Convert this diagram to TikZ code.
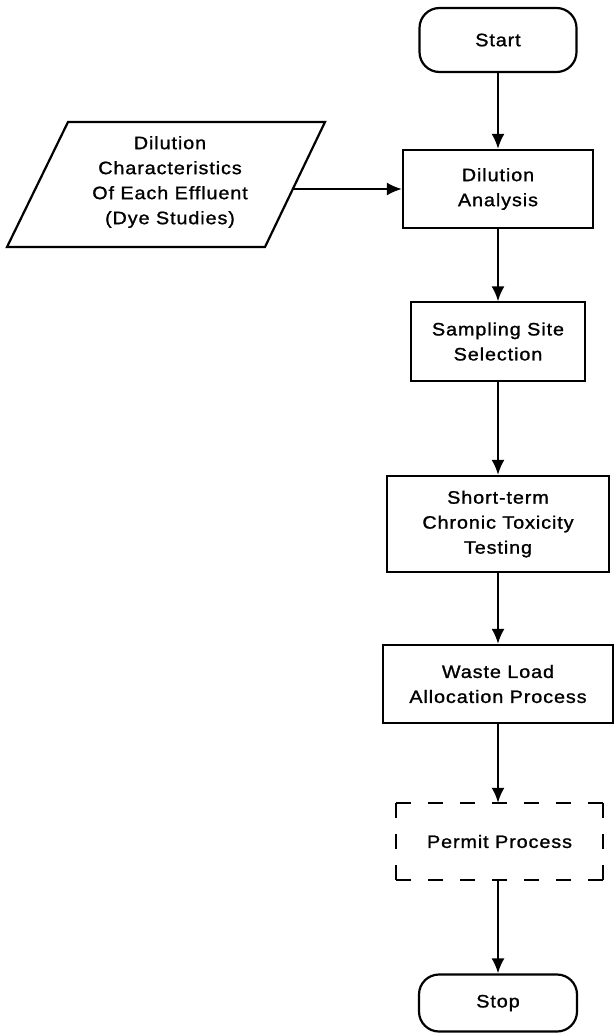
\documentclass[tikz,border=0pt]{standalone}
\usepackage{fontspec}
\setmainfont[FakeStretch=1.1,LetterSpace=5,FakeBold=1.2]{Liberation Sans}
\usetikzlibrary{arrows.meta}
\begin{document}
\begin{tikzpicture}[x=1pt,y=-1pt,
  every node/.style={font=\fontsize{18}{25}\selectfont, align=center, inner sep=0pt},
  box/.style={draw, line width=2.2pt, minimum width=#1},
  endbox/.style={draw, line width=2.2pt, rounded corners=20pt, minimum width=#1},
  flow/.style={line width=2.2pt, -{Latex[length=15pt,width=13pt]}},
  dashedge/.style={line width=2.2pt, dash pattern=on 15pt off 17pt},
]
% page extent
\useasboundingbox (0,0) rectangle (614,1036);

% main column
\node[endbox=157, minimum height=64] (start) at (498,40) {Start};
\node[box=190, minimum height=78] (dil) at (498,189) {Dilution\\Analysis};
\node[box=174, minimum height=79, line width=1.3pt] (samp) at (498,341.5) {Sampling Site\\Selection};
\node[box=222, minimum height=96] (chron) at (498,524) {Short-term\\Chronic Toxicity\\Testing};
\node[box=230, minimum height=78] (wla) at (498,684) {Waste Load\\Allocation Process};
\node[minimum width=207, minimum height=77] (perm) at (499.5,841.5) {Permit Process};
\node[endbox=158, minimum height=57] (stop) at (498,1003) {Stop};

% dashed outline of the permit step, each edge starting on a full dash
\draw[dashedge] (perm.north west) -- (perm.north east);
\draw[dashedge] (perm.south west) -- (perm.south east);
\draw[dash pattern=on 15pt off 16pt, line width=2.2pt] (perm.north west) -- (perm.south west);
\draw[dash pattern=on 15pt off 16pt, line width=2.2pt] (perm.north east) -- (perm.south east);

% input data parallelogram
\draw[line width=2.2pt, line join=miter] (7,247) -- (265,247) -- (325,122) -- (68,122) -- cycle;
\node (inp) at (170,182) {Dilution\\Characteristics\\Of Each Effluent\\(Dye Studies)};
\coordinate (inpR) at (293,189);

% connectors
\draw[flow] (start) -- (dil);
\draw[flow] (inpR) -- (dil.west);
\draw[flow] (dil) -- (samp);
\draw[flow] (samp) -- (chron);
\draw[flow] (chron) -- (wla);
\draw[flow] (wla.south) -- (wla.south |- perm.north);
\draw[flow] (perm.south -| stop.north) -- (stop);
\end{tikzpicture}
\end{document}
